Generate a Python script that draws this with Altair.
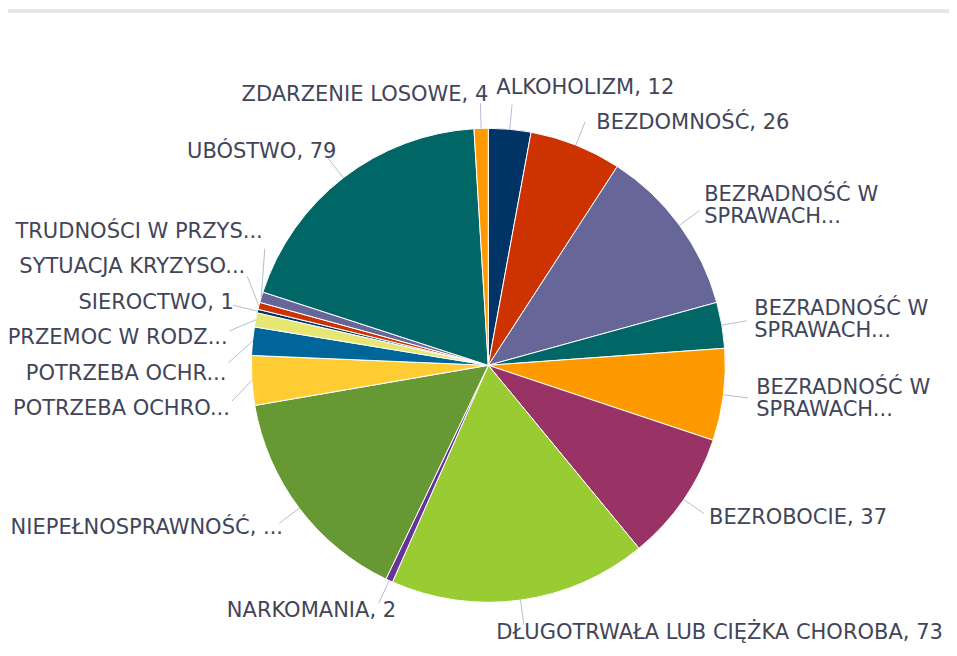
import math
import altair as alt
import pandas as pd

# ---------------- data ----------------
labels = [
    "ALKOHOLIZM, 12",
    "BEZDOMNOŚĆ, 26",
    "BEZRADNOŚĆ W\nSPRAWACH...",
    "BEZRADNOŚĆ W\nSPRAWACH...",
    "BEZRADNOŚĆ W\nSPRAWACH...",
    "BEZROBOCIE, 37",
    "DŁUGOTRWAŁA LUB CIĘŻKA CHOROBA, 73",
    "NARKOMANIA, 2",
    "NIEPEŁNOSPRAWNOŚĆ, ...",
    "POTRZEBA OCHRO...",
    "POTRZEBA OCHR...",
    "PRZEMOC W RODZ...",
    "SIEROCTWO, 1",
    "SYTUACJA KRYZYSO...",
    "TRUDNOŚCI W PRZYS...",
    "UBÓSTWO, 79",
    "ZDARZENIE LOSOWE, 4",
]
values = [12, 26, 48, 13, 26, 37, 73, 2, 63, 14, 8, 4, 1, 2, 3, 79, 4]

palette = ["#003366", "#cc3300", "#666699", "#006666", "#ff9900", "#993366",
           "#99cc33", "#663399", "#669933", "#ffcc33", "#006699", "#e6e673"]

# ---------------- layout constants ----------------
W, H = 941, 640
CX, CY, R = 480.3, 357.3, 237
R_NAT, R_X, PAD_R, R_END = 270, 262, 8, 262
SLOT1, SLOT2 = 35.4, 57
FONT = "DejaVu Sans"
FONT_SIZE = 21
LINE_H = 22
TEXT_COLOR = "#424559"
LINE_COLOR = "#b4bfd3"

total = sum(values)
keys = [f"{i:02d}" for i in range(len(values))]
colors = [palette[i % len(palette)] for i in range(len(values))]

# ---------------- label layout (pie data-label style) ----------------
items = []
cum = 0
for i, (lab, v) in enumerate(zip(labels, values)):
    mid = (cum + v / 2) / total * 2 * math.pi
    cum += v
    s, c = math.sin(mid), math.cos(mid)
    items.append(dict(
        idx=i, text=lab, mid=mid,
        side="right" if mid < math.pi else "left",
        sx=CX + R * s, sy=CY - R * c,
        rx=CX + R_END * s, ry=CY - R_END * c,
        ny=CY - R_NAT * c,
        h=SLOT2 if "\n" in lab else SLOT1,
        nlines=lab.count("\n") + 1,
    ))


def distribute(group_items):
    group_items = sorted(group_items, key=lambda d: d["ny"])
    groups = [[it] for it in group_items]

    def gpos(g):
        tot = sum(it["h"] for it in g)
        cen = sum(it["ny"] for it in g) / len(g)
        return cen - tot / 2, tot

    changed = True
    while changed:
        changed = False
        for j in range(len(groups) - 1):
            t1, h1 = gpos(groups[j])
            t2, _ = gpos(groups[j + 1])
            if t1 + h1 > t2:
                groups[j] = groups[j] + groups[j + 1]
                del groups[j + 1]
                changed = True
                break
    for g in groups:
        top, _ = gpos(g)
        y = top
        for it in g:
            it["ly"] = y + it["h"] / 2
            y += it["h"]


distribute([it for it in items if it["side"] == "right"])
distribute([it for it in items if it["side"] == "left"])

for it in items:
    dy = it["ly"] - CY
    dx = math.sqrt(max(0.0, R_X ** 2 - dy ** 2))
    if it["side"] == "right":
        it["lx"] = CX + dx + PAD_R
    else:
        it["lx"] = CX - dx
    moved = abs(it["ly"] - it["ny"]) > 12
    if moved:
        it["ex"] = it["lx"] - 2 if it["side"] == "right" else it["lx"] + 2
        it["ey"] = it["ly"] + 0.3 * (it["ny"] - it["ly"])
    else:
        it["ex"], it["ey"] = it["rx"], it["ry"]
    # first text line position so the whole block is centred on ly
    it["ty"] = it["ly"] - (it["nlines"] - 1) * LINE_H / 2

pie_df = pd.DataFrame({"key": keys, "value": values, "idx": list(range(len(values)))})
lab_df = pd.DataFrame(items)

xs = alt.Scale(domain=[0, W], nice=False, zero=False)
ys = alt.Scale(domain=[0, H], nice=False, zero=False, reverse=True)

pie = alt.Chart(pie_df).mark_arc(outerRadius=R, stroke="white", strokeWidth=1).encode(
    theta=alt.Theta("value:Q", stack=True),
    color=alt.Color("key:N", scale=alt.Scale(domain=keys, range=colors), legend=None),
    order=alt.Order("idx:Q"),
    x=alt.value(CX),
    y=alt.value(CY),
)

connectors = alt.Chart(lab_df).mark_rule(color=LINE_COLOR, strokeWidth=1).encode(
    x=alt.X("sx:Q", scale=xs, axis=None),
    y=alt.Y("sy:Q", scale=ys, axis=None),
    x2="ex:Q",
    y2="ey:Q",
)

text_common = dict(font=FONT, fontSize=FONT_SIZE, color=TEXT_COLOR, baseline="middle",
                   lineBreak="\n", lineHeight=LINE_H)

right_text = alt.Chart(lab_df).transform_filter(alt.datum.side == "right").mark_text(
    align="left", **text_common
).encode(
    x=alt.X("lx:Q", scale=xs, axis=None),
    y=alt.Y("ty:Q", scale=ys, axis=None),
    text="text:N",
)

left_text = alt.Chart(lab_df).transform_filter(alt.datum.side == "left").mark_text(
    align="right", **text_common
).encode(
    x=alt.X("lx:Q", scale=xs, axis=None),
    y=alt.Y("ty:Q", scale=ys, axis=None),
    text="text:N",
)

top_line = alt.Chart(pie_df).mark_rule(color="#e6e6eb", strokeWidth=3).encode(
    x=alt.value(0), x2=alt.value(W), y=alt.value(3)
)

chart = alt.layer(top_line, pie, connectors, left_text, right_text).properties(
    width=W, height=H, padding=0,
    autosize=alt.AutoSizeParams(type="none"),
).configure_view(stroke=None)

chart.save("out.html", embed_options={"renderer": "svg", "actions": False})
